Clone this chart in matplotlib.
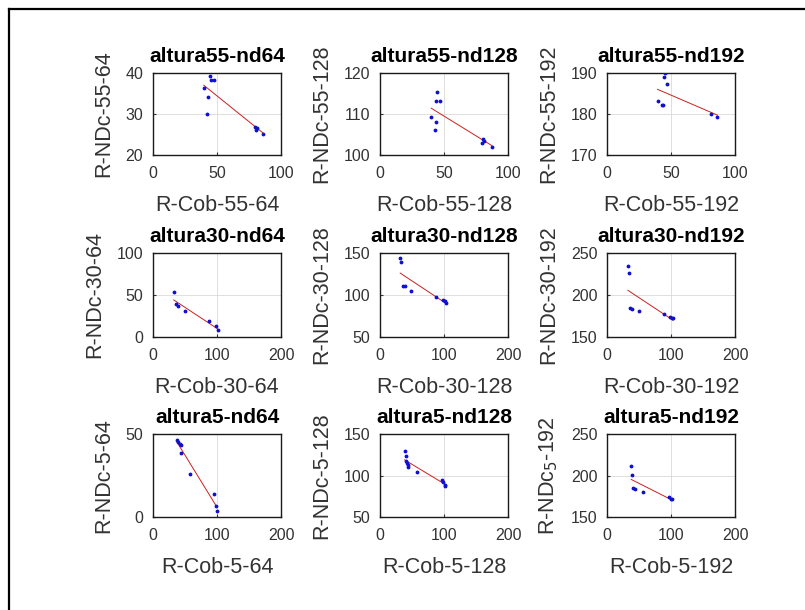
import numpy as np
import matplotlib
matplotlib.use("Agg")
import matplotlib.pyplot as plt
from matplotlib.lines import Line2D

plt.rcParams["font.family"] = ["Liberation Sans", "DejaVu Sans"]

TEXT = "#333333"

titles = [
    "altura55-nd64", "altura55-nd128", "altura55-nd192",
    "altura30-nd64", "altura30-nd128", "altura30-nd192",
    "altura5-nd64", "altura5-nd128", "altura5-nd192",
]
xlabels = [
    "R-Cob-55-64", "R-Cob-55-128", "R-Cob-55-192",
    "R-Cob-30-64", "R-Cob-30-128", "R-Cob-30-192",
    "R-Cob-5-64", "R-Cob-5-128", "R-Cob-5-192",
]
ylabels = [
    "R-NDc-55-64", "R-NDc-55-128", "R-NDc-55-192",
    "R-NDc-30-64", "R-NDc-30-128", "R-NDc-30-192",
    "R-NDc-5-64", "R-NDc-5-128", "R-NDc$_5$-192",
]

# altura 55
x55_64 = [39.7, 44.4, 45.7, 47.5, 43.3, 42.3, 79.9, 80.4, 81.5, 85.9]
y55_64 = [36.4, 39.2, 38.4, 38.4, 34.2, 30.1, 26.9, 26.1, 26.6, 25.1]
x55_128 = [40.0, 42.9, 43.7, 43.4, 44.7, 46.8, 80.5, 81.1, 80.0, 87.4]
y55_128 = [109.2, 106.2, 108.1, 113.1, 115.3, 113.1, 104.0, 103.5, 103.0, 102.0]
x55_192 = [39.5, 42.6, 43.7, 44.2, 45.3, 46.8, 81.6, 86.3]
y55_192 = [183.2, 182.1, 182.1, 189.0, 189.9, 187.2, 180.1, 179.2]
# altura 30
x30_64 = [32.4, 36.6, 39.2, 49.6, 87.7, 98.2, 101.3]
y30_64 = [53.6, 38.9, 36.9, 30.6, 18.7, 12.7, 7.9]
x30_128 = [31.6, 33.2, 35.8, 38.4, 48.9, 87.9, 98.9, 101.6, 103.7]
y30_128 = [144.4, 139.2, 111.2, 110.4, 105.2, 98.0, 94.0, 92.4, 90.8]
x30_192 = [32.6, 33.7, 35.8, 38.4, 49.5, 88.4, 98.9, 101.6, 103.2]
y30_192 = [234.0, 226.0, 184.0, 183.2, 181.2, 176.8, 174.0, 173.2, 172.4]
# altura 5
x5_64 = [37.6, 39.7, 41.8, 43.9, 43.9, 57.4, 95.0, 98.2, 100.3]
y5_64 = [46.6, 45.0, 44.0, 43.2, 38.6, 26.1, 13.9, 6.8, 3.4]
x5_128 = [38.4, 40.0, 41.1, 42.6, 43.2, 44.2, 57.9, 97.4, 98.9, 101.1, 102.1]
y5_128 = [129.9, 123.1, 117.1, 115.1, 112.2, 109.8, 103.8, 95.0, 92.2, 89.0, 87.8]
x5_192 = [37.9, 39.5, 41.1, 44.2, 56.8, 97.4, 100.0, 102.1]
y5_192 = [211.8, 200.6, 184.9, 183.7, 179.7, 173.7, 172.1, 171.3]

xs = [x55_64, x55_128, x55_192, x30_64, x30_128, x30_192, x5_64, x5_128, x5_192]
ys = [y55_64, y55_128, y55_192, y30_64, y30_128, y30_192, y5_64, y5_128, y5_192]

xticks = [[0, 50, 100]] * 3 + [[0, 100, 200]] * 6
yticks = [[20, 30, 40], [100, 110, 120], [170, 180, 190],
          [0, 50, 100], [50, 100, 150], [150, 200, 250],
          [0, 50], [50, 100, 150], [150, 200, 250]]

fig = plt.figure(figsize=(8.05, 6.10), dpi=100, facecolor="white")

lefts = [153, 380, 607]
rows = [(73, 155), (253, 337), (434, 517)]
W, H = 805, 610

for i in range(9):
    r, c = divmod(i, 3)
    top, bot = rows[r]
    ax = fig.add_axes([lefts[c] / W, 1 - bot / H, 128 / W, (bot - top) / H])
    x = np.array(xs[i])
    y = np.array(ys[i])
    ax.plot(x, y, ".", color="#1010d0", markersize=3.5, zorder=3)
    k, b = np.polyfit(x, y, 1)
    xf = np.array([x.min(), x.max()])
    ax.plot(xf, k * xf + b, "-", color="#cc2020", lw=0.7, zorder=2)
    ax.set_xlim(xticks[i][0], xticks[i][-1])
    ax.set_xticks(xticks[i])
    ax.set_ylim(yticks[i][0], yticks[i][-1])
    ax.set_yticks(yticks[i])
    ax.grid(True, color="#d9d9d9", lw=0.6)
    ax.set_axisbelow(True)
    ax.tick_params(direction="in", length=2, labelsize=11.5, colors=TEXT)
    ax.tick_params(axis="x", pad=8)
    ax.tick_params(axis="y", pad=7)
    for s in ax.spines.values():
        s.set_color("#1a1a1a")
        s.set_linewidth(1.0)
    ax.set_title(titles[i], fontsize=15, fontweight="bold", color="black", pad=8)
    ax.set_xlabel(xlabels[i], fontsize=15.5, color=TEXT, labelpad=10)
    ax.set_ylabel(ylabels[i], fontsize=15.5, color=TEXT, labelpad=8)

# frame lines on left and top
fig.add_artist(Line2D([9 / W, 9 / W], [0, 1 - 9 / H], transform=fig.transFigure,
                      color="black", lw=1.6))
fig.add_artist(Line2D([9 / W, 1], [1 - 9 / H, 1 - 9 / H], transform=fig.transFigure,
                      color="black", lw=1.6))

fig.savefig("out.png", dpi=100, facecolor="white")
